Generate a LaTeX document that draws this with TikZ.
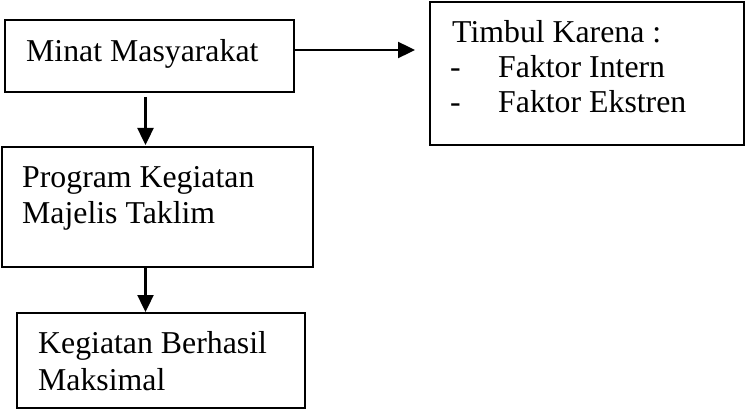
\documentclass[tikz,border=0pt]{standalone}
\usepackage{fontspec}
\setmainfont{Liberation Serif}
\usetikzlibrary{arrows.meta}
\begin{document}
\begin{tikzpicture}[x=1pt,y=-1pt,
  box/.style={draw=black, line width=2pt, rectangle, inner sep=0pt},
  txt/.style={anchor=base west, inner sep=0pt, font=\fontsize{31.8}{35}\selectfont},
  arr/.style={line width=2.4pt, -{Triangle[length=17pt,width=16pt]}}]
\useasboundingbox (0,0) rectangle (745,409);
\node[box, minimum width=289pt, minimum height=72pt] (b1) at (149,56) {};
\node[box, minimum width=314pt, minimum height=143pt] (b2) at (586.5,73.5) {};
\node[box, minimum width=311pt, minimum height=120pt] (b3) at (157.5,207) {};
\node[box, minimum width=288pt, minimum height=95pt] (b4) at (161,360.5) {};
\node[txt] (t1) at (26,62) {Minat Masyarakat};
\node[txt] (t2) at (452,43) {Timbul Karena :};
\node[txt] (d1) at (450,78) {-};
\node[txt] (t3) at (498,78) {Faktor Intern};
\node[txt] (d2) at (450,113) {-};
\node[txt] (t4) at (498,113) {Faktor Ekstren};
\node[txt] (t5) at (22,188) {Program Kegiatan};
\node[txt] (t6) at (22,223) {Majelis Taklim};
\node[txt] (t7) at (38,353) {Kegiatan Berhasil};
\node[txt] (t8) at (38,390) {Maksimal};
\coordinate (h1) at (415,50);
\coordinate (v1s) at (145.5,97);
\coordinate (v1e) at (145.5,145);
\coordinate (v2s) at (145.5,268);
\coordinate (v2e) at (145.5,312);
\draw[arr] (b1.east |- h1) -- (h1);
\draw[arr] (v1s) -- (v1e);
\draw[arr] (v2s) -- (v2e);
\end{tikzpicture}
\end{document}
